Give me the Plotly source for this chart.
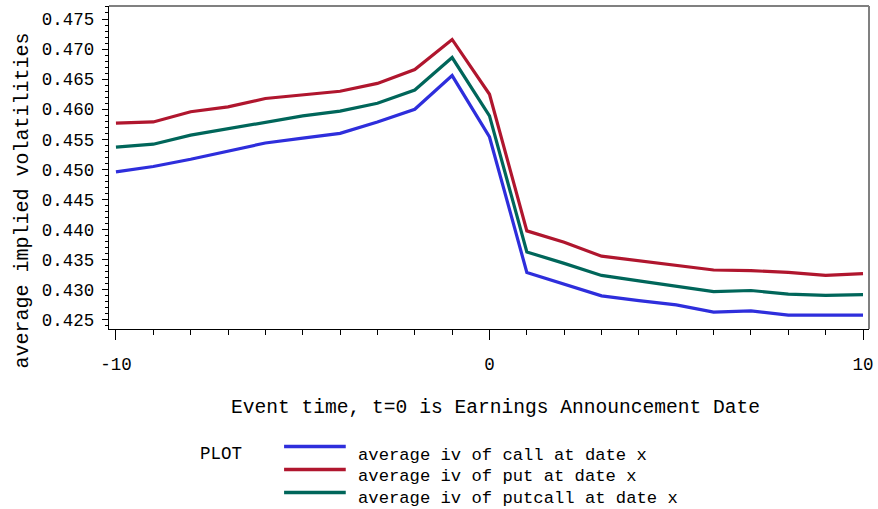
import plotly.graph_objects as go

event_time = list(range(-10, 11))

iv_call = [0.4496, 0.4505, 0.4517, 0.4531, 0.4544, 0.4552, 0.4560, 0.4579, 0.4600, 0.4656,
           0.4554, 0.4329, 0.4309, 0.4290, 0.4282, 0.4275, 0.4263, 0.4265, 0.4258, 0.4258, 0.4258]
iv_put = [0.4577, 0.4579, 0.4596, 0.4604, 0.4618, 0.4624, 0.4630, 0.4643, 0.4666, 0.4716,
          0.4625, 0.4398, 0.4379, 0.4356, 0.4348, 0.4340, 0.4333, 0.4332, 0.4329, 0.4324, 0.4327]
iv_putcall = [0.4537, 0.4542, 0.4557, 0.4568, 0.4579, 0.4589, 0.4597, 0.4610, 0.4632, 0.4686,
              0.4589, 0.4363, 0.4344, 0.4324, 0.4315, 0.4306, 0.4297, 0.4299, 0.4293, 0.4291, 0.4292]

series_names = ["average iv of call at date x",
                "average iv of put at date x",
                "average iv of putcall at date x"]
series_values = [iv_call, iv_put, iv_putcall]
colors = ["#2E2EDC", "#B0162E", "#00665A"]

x_tick_vals = [-10, 0, 10]
y_tick_vals = [0.425, 0.430, 0.435, 0.440, 0.445, 0.450, 0.455, 0.460, 0.465, 0.470, 0.475]
y_tick_text = ["0.425", "0.430", "0.435", "0.440", "0.445", "0.450",
               "0.455", "0.460", "0.465", "0.470", "0.475"]

FONT = "Liberation Mono"
W, H = 878, 509
ML, MR, MT, MB = 109, 5, 6, 180

fig = go.Figure()
for name, vals, col in zip(series_names, series_values, colors):
    fig.add_trace(go.Scatter(x=event_time, y=vals, mode="lines", name=name,
                             line=dict(color=col, width=3.2), showlegend=False))

def py(ypix):
    return (H - MB - ypix) / (H - MT - MB)

def px(xpix):
    return (xpix - ML) / (W - ML - MR)

annotations = []
shapes = []
shapes.append(dict(type="line", xref="paper", yref="paper", x0=0, x1=1, y0=1, y1=1,
                   line=dict(color="#808080", width=2)))
shapes.append(dict(type="line", xref="paper", yref="paper", x0=1, x1=1, y0=0, y1=1,
                   line=dict(color="#808080", width=2)))

annotations.append(dict(text="Event time, t=0 is Earnings Announcement Date",
                        xref="paper", yref="paper", x=px(498), y=py(408),
                        xanchor="center", yanchor="middle", showarrow=False,
                        font=dict(family=FONT, size=19.6, color="#000000")))
annotations.append(dict(text="average implied volatilities",
                        xref="paper", yref="paper", x=px(22), y=py(200),
                        xanchor="center", yanchor="middle", showarrow=False, textangle=-90,
                        font=dict(family=FONT, size=20, color="#000000")))

annotations.append(dict(text="PLOT", xref="paper", yref="paper", x=px(198), y=py(454),
                        xanchor="left", yanchor="middle", showarrow=False,
                        font=dict(family=FONT, size=17.5, color="#000000")))
leg_line_y = [446.5, 469.5, 492.5]
leg_text_y = [455, 476.5, 499]
for name, col, ly, ty in zip(series_names, colors, leg_line_y, leg_text_y):
    shapes.append(dict(type="line", xref="paper", yref="paper", x0=px(285), x1=px(347),
                       y0=py(ly), y1=py(ly), line=dict(color=col, width=3.5)))
    annotations.append(dict(text=name, xref="paper", yref="paper", x=px(357), y=py(ty),
                            xanchor="left", yanchor="middle", showarrow=False,
                            font=dict(family=FONT, size=17.2, color="#000000")))

fig.update_layout(
    width=W, height=H,
    margin=dict(l=ML, r=MR, t=MT, b=MB, pad=0),
    paper_bgcolor="white", plot_bgcolor="white",
    font=dict(family=FONT, color="#000000"),
    shapes=shapes, annotations=annotations,
    showlegend=False,
)
fig.update_xaxes(
    range=[-10.186, 10.160], showgrid=False, zeroline=False,
    showline=True, linecolor="#000000", linewidth=1.3,
    tickmode="array", tickvals=x_tick_vals, ticktext=[str(v) for v in x_tick_vals],
    ticks="outside", ticklen=10, tickwidth=1.3, tickcolor="#000000",
    ticklabelstandoff=9,
    tickfont=dict(family=FONT, size=17.5, color="#000000"),
    minor=dict(dtick=1, tick0=0, ticks="outside", ticklen=5, tickwidth=1.3,
               tickcolor="#000000", showgrid=False),
)
fig.update_yaxes(
    range=[0.42350, 0.47716], showgrid=False, zeroline=False,
    showline=True, linecolor="#000000", linewidth=1.3,
    tickmode="array", tickvals=y_tick_vals, ticktext=y_tick_text,
    ticks="outside", ticklen=6, tickwidth=1.3, tickcolor="#000000",
    ticklabelstandoff=4,
    tickfont=dict(family=FONT, size=17.5, color="#000000"),
    minor=dict(dtick=0.001, tick0=0.425, ticks="outside", ticklen=3, tickwidth=1,
               tickcolor="#000000", showgrid=False),
)

fig.write_html("out.html",
               config={"displayModeBar": False},
               post_script="document.body.style.margin='0';document.body.style.padding='0';"
                           "document.documentElement.style.overflow='hidden';")
